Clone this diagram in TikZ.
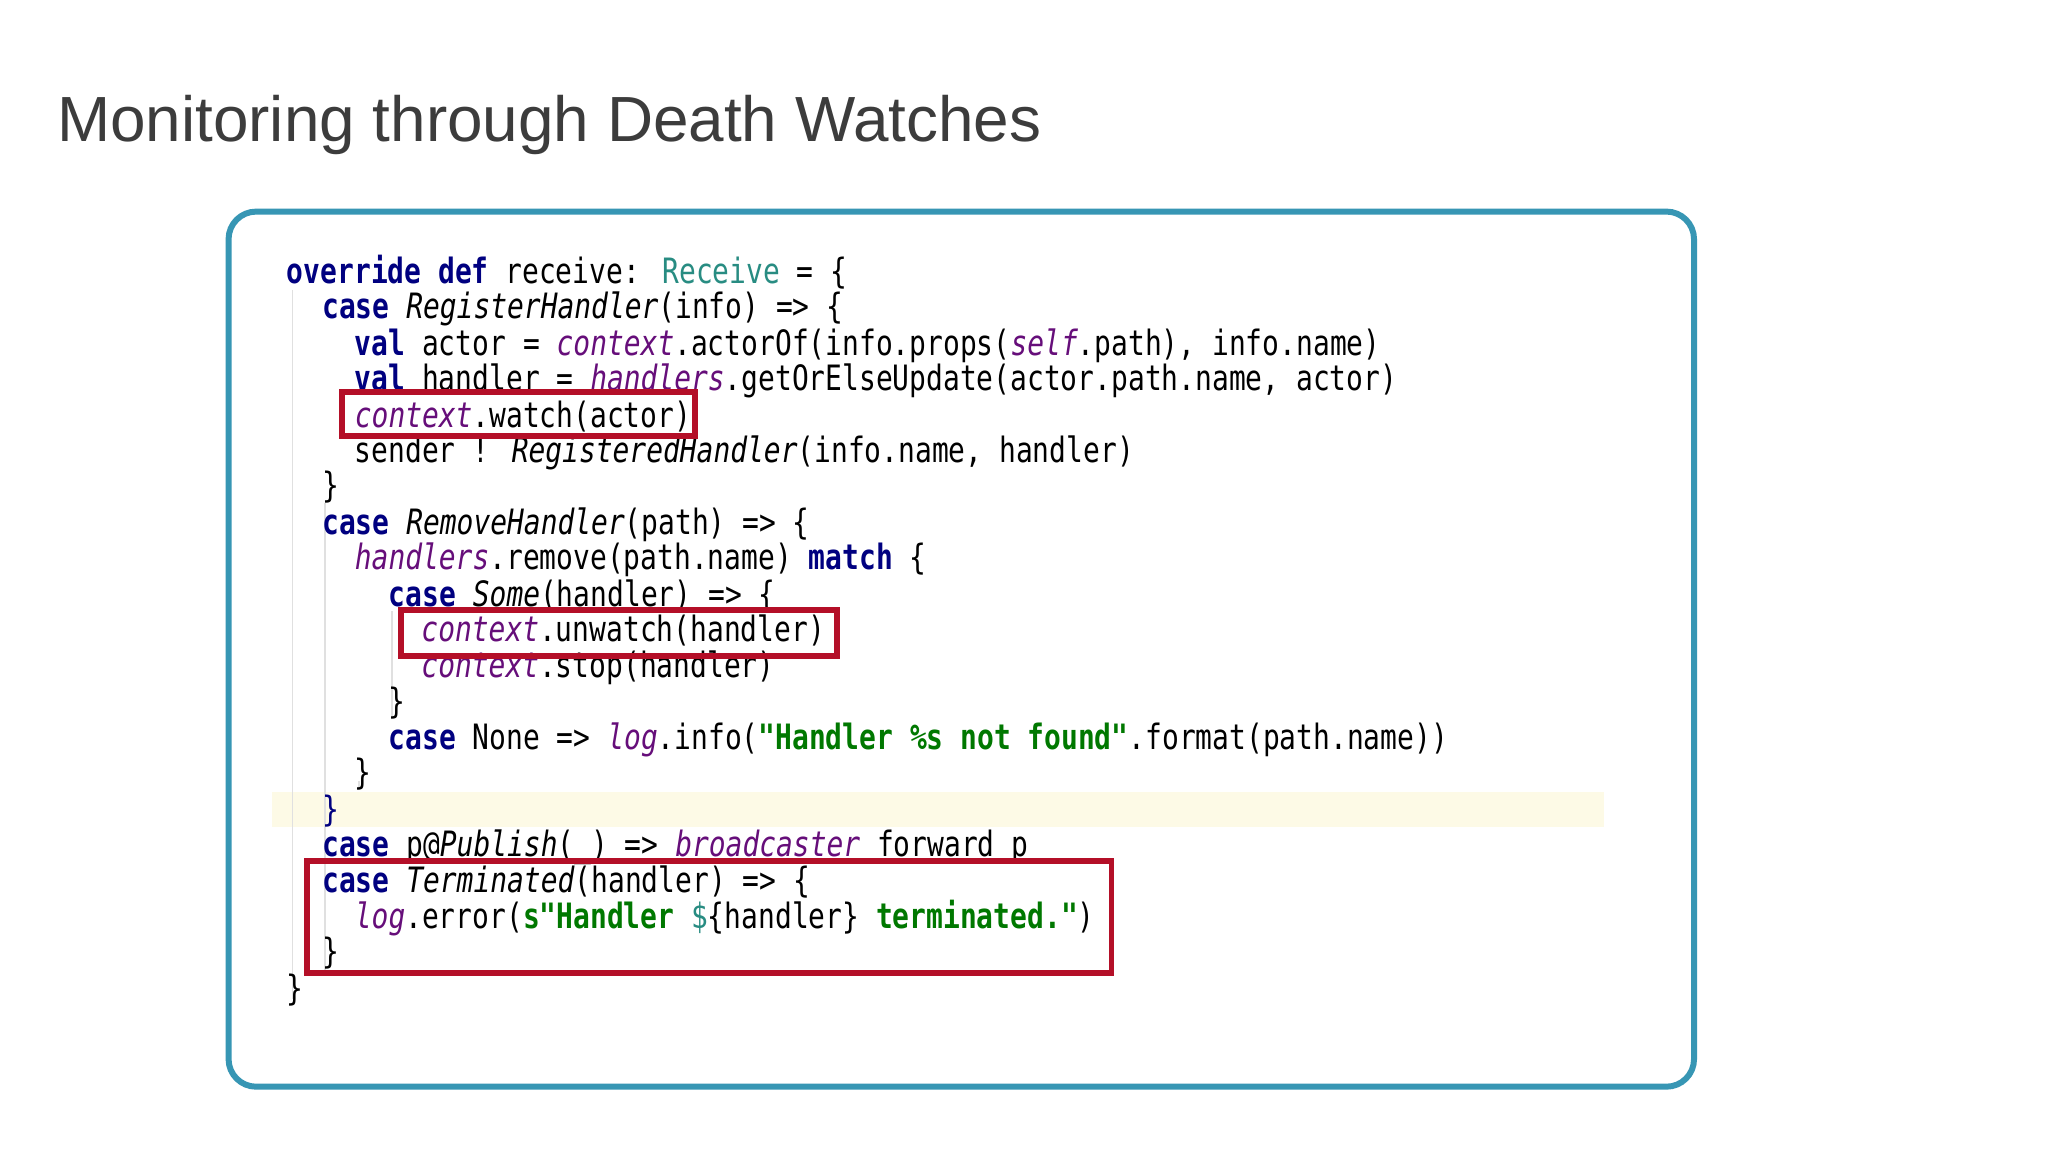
\documentclass[tikz,border=0pt]{standalone}
\usepackage{fontspec}
\setmainfont{Liberation Sans}
\newfontfamily\codefont[FakeStretch=0.8]{DejaVu Sans Mono}
\definecolor{kw}{RGB}{0,0,128}
\definecolor{tealc}{RGB}{40,140,130}
\definecolor{pur}{RGB}{102,14,122}
\definecolor{strg}{RGB}{0,120,0}
\definecolor{redb}{RGB}{180,15,40}
\definecolor{frame}{RGB}{55,150,180}
\definecolor{band}{RGB}{253,250,230}
\definecolor{titlec}{RGB}{60,60,60}
\newcommand{\K}[1]{\textcolor{kw}{\bfseries #1}}
\newcommand{\V}[1]{\textcolor{pur}{\itshape #1}}
\newcommand{\T}[1]{\textit{#1}}
\newcommand{\St}[1]{\textcolor{strg}{\bfseries #1}}
\tikzset{code/.style={anchor=base west,inner sep=0pt,font=\codefont\fontsize{7.6}{9}\selectfont},
  redbox/.style={draw=redb,line width=1.3pt}}
\begin{document}
\begin{tikzpicture}[x=0.01cm,y=-0.01cm]
\useasboundingbox (0,0) rectangle (1568,882);
\fill[white] (0,0) rectangle (1568,882);
\node[anchor=west,inner sep=0pt,text=titlec,font=\fontsize{13.9}{16}\selectfont] (title) at (43,96) {Monitoring through Death Watches};
\draw[frame,line width=1.3pt,rounded corners=6pt] (175,162) rectangle (1297,832);
\fill[band] (208,606) rectangle (1228,633);
\foreach \x/\a/\b in {224/222/765,249/385/745,275/605/598,300/468/548}
  \draw[black!12,line width=0.4pt] (\x,\a) -- (\x,\b);
\begin{scope}[yshift=-0.02cm]
\node[code] (l1) at (219,215) {\K{override def} receive: \textcolor{tealc}{Receive} = \{};
\node[code] (l2) at (246,242) {\K{case} \T{RegisterHandler}(info) => \{};
\node[code] (l3) at (271,270) {\K{val} actor = \V{context}.actorOf(info.props(\V{self}.path), info.name)};
\node[code] (l4) at (271,297) {\K{val} handler = \V{handlers}.getOrElseUpdate(actor.path.name, actor)};
\node[code] (l5) at (271,325) {\V{context}.watch(actor)};
\node[code] (l6) at (271,352) {sender ! \T{RegisteredHandler}(info.name, handler)};
\node[code] (l7) at (246,379) {\}};
\node[code] (l8) at (246,407) {\K{case} \T{RemoveHandler}(path) => \{};
\node[code] (l9) at (271,434) {\V{handlers}.remove(path.name) \K{match} \{};
\node[code] (l10) at (297,462) {\K{case} \T{Some}(handler) => \{};
\node[code] (l11) at (322,489) {\V{context}.unwatch(handler)};
\node[code] (l12) at (322,517) {\V{context}.stop(handler)};
\node[code] (l13) at (297,544) {\}};
\node[code] (l14) at (297,572) {\K{case} None => \V{log}.info(\St{"Handler \%s not found"}.format(path.name))};
\node[code] (l15) at (271,599) {\}};
\node[code] (l16) at (246,627) {\textcolor{kw}{\}}};
\node[code] (l17) at (246,654) {\K{case} p@\T{Publish}(\_) => \V{broadcaster} forward p};
\node[code] (l18) at (246,681) {\K{case} \T{Terminated}(handler) => \{};
\node[code] (l19) at (271,709) {\V{log}.error(\St{s"Handler }\textcolor{tealc}{\$}\{handler\}\St{ terminated."})};
\node[code] (l20) at (246,736) {\}};
\node[code] (l21) at (219,764) {\}};
\end{scope}
\draw[redbox] (262,300) rectangle (532,334);
\draw[redbox] (307,467) rectangle (641,502);
\draw[redbox] (235,659) rectangle (851,745);
\end{tikzpicture}
\end{document}
